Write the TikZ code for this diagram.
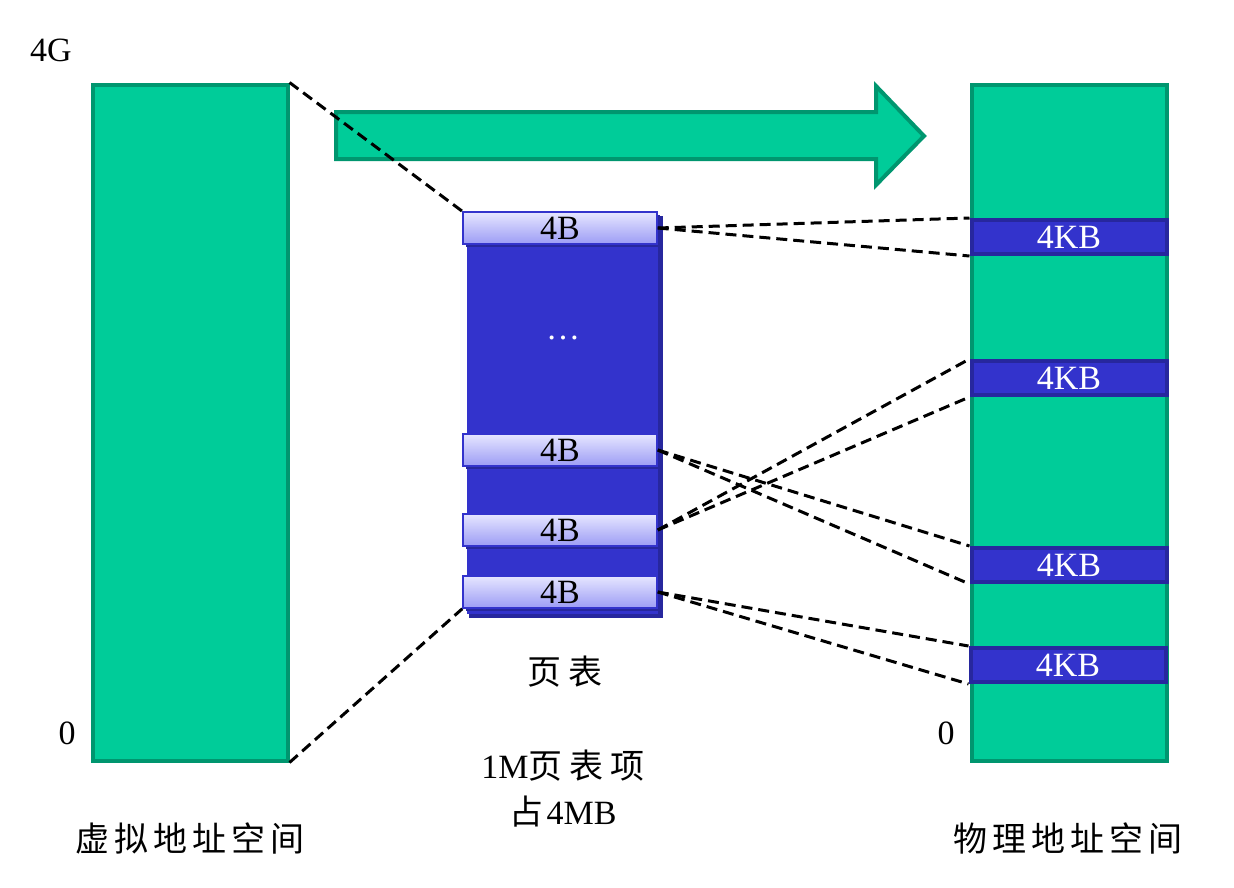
\documentclass[tikz,border=0pt]{standalone}
\usepackage{fontspec}
\setmainfont{Liberation Serif}
\newfontfamily\cjk{Noto Sans CJK SC}
\definecolor{gfill}{HTML}{00CC99}
\definecolor{gline}{HTML}{00966F}
\definecolor{bfill}{HTML}{3333CC}
\definecolor{bline}{HTML}{27279E}
\definecolor{etop}{HTML}{E6E6FF}
\definecolor{ebot}{HTML}{9C9CF5}
\begin{document}
\begin{tikzpicture}[x=1pt,y=-1pt,
  space/.style={draw=gline,fill=gfill,line width=4pt,minimum width=195pt,minimum height=676pt,inner sep=0pt},
  kbox/.style={draw=bline,fill=bfill,line width=4pt,minimum width=195pt,minimum height=34pt,inner sep=0pt,text=white,font=\fontsize{34}{34}\selectfont},
  entry/.style={draw=bfill,line width=1.5pt,top color=etop,bottom color=ebot,minimum width=194pt,minimum height=32pt,inner sep=0pt,font=\fontsize{34}{34}\selectfont},
  lbl/.style={font=\fontsize{34}{34}\selectfont},
  clbl/.style={font=\fontsize{34}{46}\selectfont,align=center},
  dline/.style={draw=black,line width=3pt,dash pattern=on 11pt off 6pt}]
\useasboundingbox (0,0) rectangle (1234,887);
% spaces
\node[space] (vs) at (190,422.5) {};
\node[space] (ps) at (1069,422.5) {};
% arrow
\draw[gline,fill=gfill,line width=4pt,line join=miter] (336,112) -- (876,112) -- (876,86) -- (924,136) -- (876,185) -- (876,159) -- (336,159) -- cycle;
% page table
\fill[bline] (469,216) rectangle (663,618);
\node[draw=bfill,fill=bfill,line width=1pt,minimum width=190pt,minimum height=400pt,inner sep=0pt] (pt) at (562,413) {};
\node[text=white,lbl] (dots) at (563,338) {\dots};
\node[fill=bline,minimum width=194pt,minimum height=32pt,inner sep=0pt] at (563,231) {};
\node[fill=bline,minimum width=194pt,minimum height=32pt,inner sep=0pt] at (563,453) {};
\node[fill=bline,minimum width=194pt,minimum height=32pt,inner sep=0pt] at (563,533) {};
\node[fill=bline,minimum width=194pt,minimum height=32pt,inner sep=0pt] at (563,595) {};
\node[entry] (e1) at (560,228) {4B};
\node[entry] (e2) at (560,450) {4B};
\node[entry] (e3) at (560,530) {4B};
\node[entry] (e4) at (560,592) {4B};
% kb boxes
\node[kbox] (k1) at (1069,237) {4KB};
\node[kbox] (k2) at (1069,378) {4KB};
\node[kbox] (k3) at (1069,565) {4KB};
\node[kbox] (k4) at (1068,665) {4KB};
% labels
\node[lbl] (g4) at (51,50) {4G};
\node[lbl] (z1) at (67,733) {0};
\node[lbl] (z2) at (946,733) {0};
\node[clbl] (ptl) at (565,672) {{\cjk 页\hspace{7pt}表}};
\node[clbl] (ptn) at (563,789) {1M{\cjk 页\hspace{7pt}表\hspace{7pt}项}\\{\cjk 占}\hspace{3pt}4MB};
\node[clbl] (vsl) at (190,838) {\cjk 虚\hspace{5pt}拟\hspace{5pt}地\hspace{5pt}址\hspace{5pt}空\hspace{5pt}间};
\node[clbl] (psl) at (1068,838) {\cjk 物\hspace{5pt}理\hspace{5pt}地\hspace{5pt}址\hspace{5pt}空\hspace{5pt}间};
% dashed connectors
\draw[dline] (vs.north east) -- (e1.north west);
\draw[dline] (vs.south east) -- (e4.south west);
\draw[dline] (e1.east) -- (k1.north west);
\draw[dline] (e1.east) -- (k1.south west);
\draw[dline] (e2.east) -- (k3.north west);
\draw[dline] (e2.east) -- (k3.south west);
\draw[dline] (e3.east) -- (k2.north west);
\draw[dline] (e3.east) -- (k2.south west);
\draw[dline] (e4.east) -- (k4.north west);
\draw[dline] (e4.east) -- (k4.south west);
\end{tikzpicture}
\end{document}
